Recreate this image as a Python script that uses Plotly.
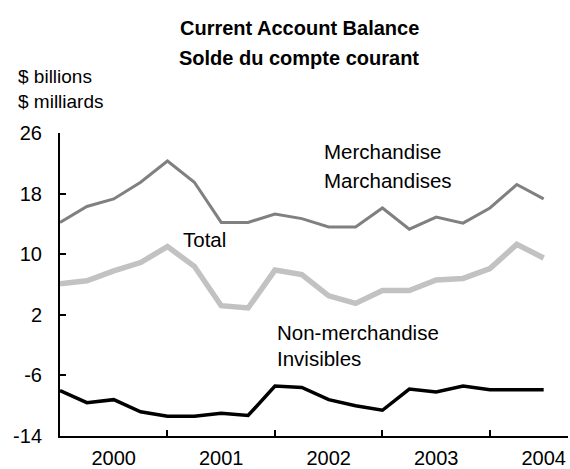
import plotly.graph_objects as go

# quarterly points, 19 of them; year boundaries every 4th point
quarters = list(range(19))
years = ["2000", "2001", "2002", "2003", "2004"]
y_ticks = [-14, -6, 2, 10, 18, 26]

merchandise = [14.2, 16.3, 17.3, 19.5, 22.3, 19.5, 14.2, 14.2, 15.3, 14.7,
               13.6, 13.6, 16.1, 13.3, 14.9, 14.1, 16.1, 19.2, 17.3]
total = [6.1, 6.5, 7.8, 8.9, 11.0, 8.4, 3.2, 2.9, 7.9, 7.3,
         4.5, 3.5, 5.2, 5.2, 6.6, 6.8, 8.1, 11.3, 9.5]
non_merchandise = [-8.0, -9.6, -9.2, -10.8, -11.4, -11.4, -11.0, -11.3, -7.4, -7.6,
                   -9.2, -10.0, -10.6, -7.8, -8.2, -7.4, -7.9, -7.9, -7.9]

FONT = "Liberation Sans, Arial, sans-serif"

W, H = 570, 469
L, T, R, B = 60, 133, 2, 33
PW, PH = W - L - R, H - T - B

fig = go.Figure()
fig.add_trace(go.Scatter(x=quarters, y=merchandise, mode="lines",
                         line=dict(color="#808080", width=3)))
fig.add_trace(go.Scatter(x=quarters, y=total, mode="lines",
                         line=dict(color="#c2c2c2", width=5.5)))
fig.add_trace(go.Scatter(x=quarters, y=non_merchandise, mode="lines",
                         line=dict(color="#000000", width=3.5)))

fig.update_layout(
    width=W, height=H,
    margin=dict(l=L, r=R, t=T, b=B, autoexpand=False),
    paper_bgcolor="white", plot_bgcolor="white",
    showlegend=False,
    font=dict(family=FONT, size=19, color="black"),
)

fig.update_xaxes(
    range=[0, PW / 26.87], automargin=False,
    showgrid=False, zeroline=False,
    showline=True, linecolor="black", linewidth=2,
    tickmode="array", tickvals=[2, 6, 10, 14, 18], ticktext=years,
    ticks="", ticklabelstandoff=3,
    minor=dict(tickmode="array", tickvals=[4, 8, 12, 16], ticks="inside",
               ticklen=6, tickwidth=1.5, tickcolor="black", showgrid=False),
    tickfont=dict(size=20),
)
fig.update_yaxes(
    range=[-14, 26], automargin=False,
    showgrid=False, zeroline=False,
    showline=True, linecolor="black", linewidth=2,
    tickmode="array", tickvals=y_ticks, ticktext=[str(v) for v in y_ticks],
    ticks="inside", ticklen=6, tickwidth=1.5, tickcolor="black",
    tickfont=dict(size=20), ticklabelstandoff=12,
)

# (text, x, y, anchor, size, bold) in window pixels
labels = [
    ("Current Account Balance", 299, 28, "center", 20, True),
    ("Solde du compte courant", 299, 58, "center", 20, True),
    ("$ billions", 17, 76, "left", 19, False),
    ("$ milliards", 17, 101, "left", 19, False),
    ("Merchandise", 323, 151, "left", 20.5, False),
    ("Marchandises", 323, 180, "left", 20.5, False),
    ("Total", 182, 239, "left", 20.5, False),
    ("Non-merchandise", 276, 332, "left", 20.5, False),
    ("Invisibles", 276, 358, "left", 20.5, False),
]
for text, px, py, anchor, size, bold in labels:
    fig.add_annotation(
        text=f"<b>{text}</b>" if bold else text,
        xref="paper", yref="paper",
        x=(px - L) / PW, y=1 - (py - T) / PH,
        xanchor=anchor, yanchor="middle", showarrow=False,
        font=dict(size=size), borderpad=0,
    )

# drop the default body margin so the figure fills the window exactly
fig.write_html("out.html", config={"displayModeBar": False},
               post_script="document.body.style.margin='0';")
